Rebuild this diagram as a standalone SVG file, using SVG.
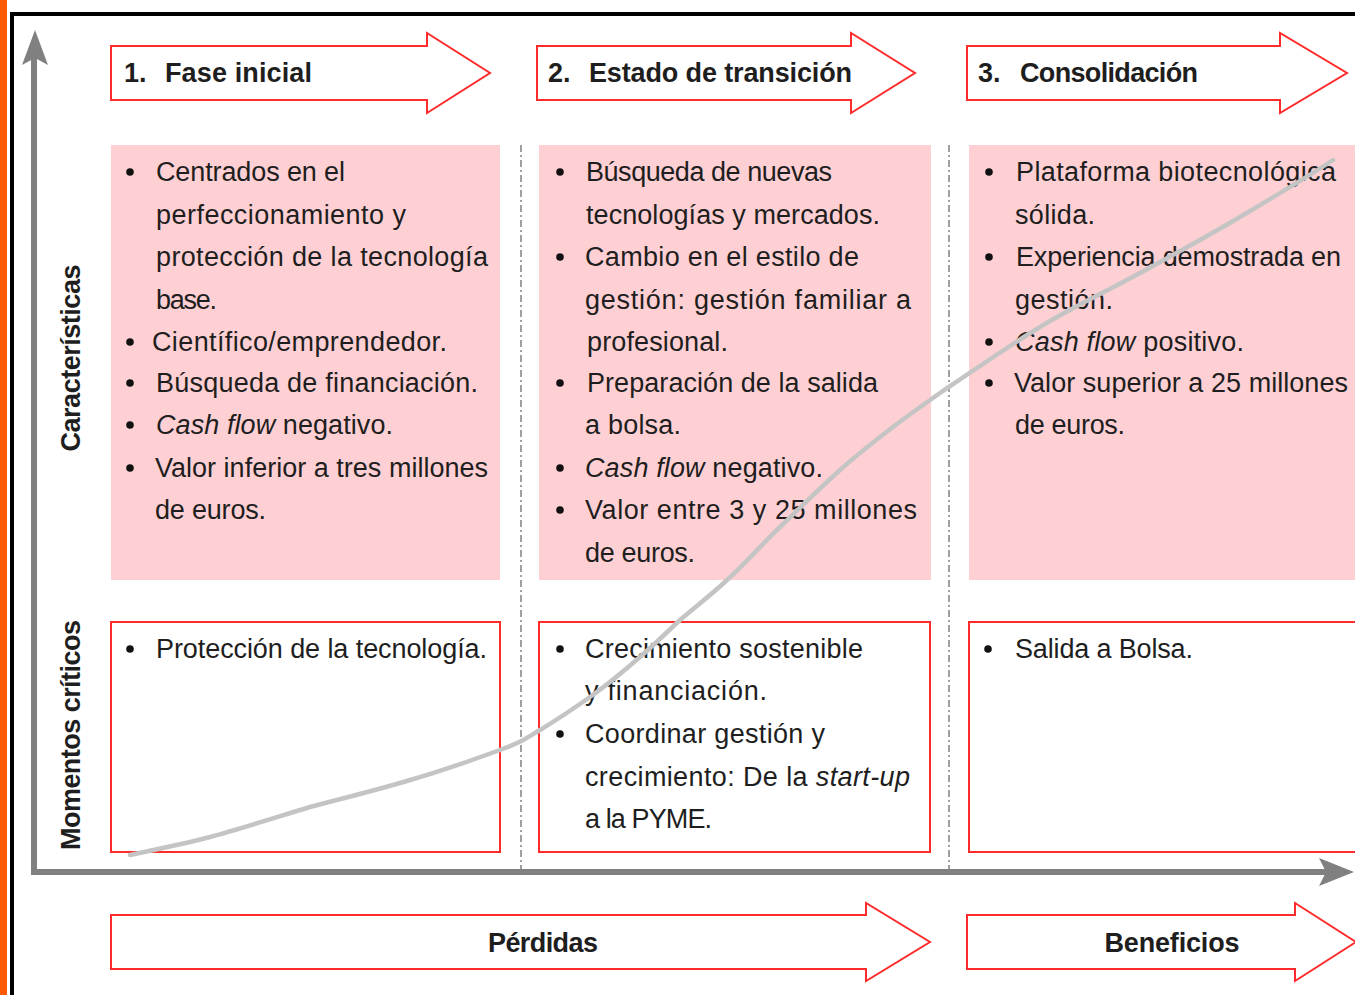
<svg xmlns="http://www.w3.org/2000/svg" width="1355" height="995" viewBox="0 0 1355 995">
<style>
.arrow{fill:#fff;stroke:#ff2b2b;stroke-width:2}
.pink{fill:#ffd0d3}
.box{fill:#fff;stroke:#ff2b2b;stroke-width:2}
.t{font-family:"Liberation Sans",Arial,sans-serif;font-size:27px;fill:#1e1e1e}
.h{font-weight:bold}
.i{font-style:italic}
.div{stroke:#808080;stroke-width:1.5;stroke-dasharray:7 3 2 3;fill:none}
.axis{stroke:#808080;stroke-width:6;fill:none}
.head{fill:#808080}
.curve{stroke:#c4c4c4;stroke-width:4.5;fill:none;stroke-linecap:round}
.b{fill:#111}
</style>
<rect x="0" y="0" width="1355" height="995" fill="#fff"/>
<rect x="0" y="0" width="7" height="995" fill="#ff5a00"/>
<rect x="12" y="14" width="1400" height="1100" fill="none" stroke="#000" stroke-width="4"/>

<g id="phase1">
<path class="arrow" d="M111,46 H427 V33 L490,73 L427,113 V100 H111 Z"/>
<text class="t h" y="82"><tspan x="124">1.</tspan><tspan x="165" textLength="147">Fase inicial</tspan></text>
</g>
<g id="phase2">
<path class="arrow" d="M537,46 H851 V33 L915,73 L851,113 V100 H537 Z"/>
<text class="t h" y="82"><tspan x="548">2.</tspan><tspan x="589" textLength="263">Estado de transición</tspan></text>
</g>
<g id="phase3">
<path class="arrow" d="M967,46 H1280 V33 L1347,73 L1280,113 V100 H967 Z"/>
<text class="t h" y="82"><tspan x="978">3.</tspan><tspan x="1020" textLength="178">Consolidación</tspan></text>
</g>

<g id="label-caracteristicas">
<text class="t h" transform="translate(80,358) rotate(-90)" text-anchor="middle" font-size="25" textLength="187">Características</text>
</g>
<g id="label-momentos">
<text class="t h" transform="translate(80,735) rotate(-90)" text-anchor="middle" font-size="25" textLength="230">Momentos críticos</text>
</g>

<g id="dividers">
<line class="div" x1="521" y1="145" x2="521" y2="870"/>
<line class="div" x1="949" y1="145" x2="949" y2="870"/>
</g>

<g id="char1">
<rect class="pink" x="111" y="145" width="389" height="435"/>
<circle class="b" cx="130" cy="172" r="3.8"/><circle class="b" cx="130" cy="342" r="3.8"/><circle class="b" cx="130" cy="383" r="3.8"/><circle class="b" cx="130" cy="425" r="3.8"/><circle class="b" cx="130" cy="468" r="3.8"/>
<text class="t" x="156" y="181" textLength="189">Centrados en el</text>
<text class="t" x="156" y="224" textLength="250">perfeccionamiento y</text>
<text class="t" x="156" y="266" textLength="332">protección de la tecnología</text>
<text class="t" x="156" y="309" textLength="61">base.</text>
<text class="t" x="152" y="351" textLength="295">Científico/emprendedor.</text>
<text class="t" x="156" y="392" textLength="322">Búsqueda de financiación.</text>
<text class="t" x="156" y="434" textLength="237"><tspan class="i">Cash flow</tspan> negativo.</text>
<text class="t" x="155" y="477" textLength="333">Valor inferior a tres millones</text>
<text class="t" x="155" y="519" textLength="111">de euros.</text>
</g>

<g id="char2">
<rect class="pink" x="539" y="145" width="392" height="435"/>
<circle class="b" cx="560" cy="172" r="3.8"/><circle class="b" cx="560" cy="257" r="3.8"/><circle class="b" cx="560" cy="383" r="3.8"/><circle class="b" cx="560" cy="468" r="3.8"/><circle class="b" cx="560" cy="510" r="3.8"/>
<text class="t" x="586" y="181" textLength="246">Búsqueda de nuevas</text>
<text class="t" x="586" y="224" textLength="294">tecnologías y mercados.</text>
<text class="t" x="585" y="266" textLength="274">Cambio en el estilo de</text>
<text class="t" x="585" y="309" textLength="326">gestión: gestión familiar a</text>
<text class="t" x="587" y="351" textLength="141">profesional.</text>
<text class="t" x="587" y="392" textLength="291">Preparación de la salida</text>
<text class="t" x="585" y="434" textLength="96">a bolsa.</text>
<text class="t" x="585" y="477" textLength="238"><tspan class="i">Cash flow</tspan> negativo.</text>
<text class="t" x="585" y="519" textLength="332">Valor entre 3 y 25 millones</text>
<text class="t" x="585" y="562" textLength="110">de euros.</text>
</g>

<g id="char3">
<rect class="pink" x="969" y="145" width="390" height="435"/>
<circle class="b" cx="989" cy="172" r="3.8"/><circle class="b" cx="989" cy="257" r="3.8"/><circle class="b" cx="989" cy="342" r="3.8"/><circle class="b" cx="989" cy="383" r="3.8"/>
<text class="t" x="1016" y="181" textLength="320">Plataforma biotecnológica</text>
<text class="t" x="1015" y="224" textLength="80">sólida.</text>
<text class="t" x="1016" y="266" textLength="325">Experiencia demostrada en</text>
<text class="t" x="1015" y="309" textLength="98">gestión.</text>
<text class="t" x="1015" y="351" textLength="229"><tspan class="i">Cash flow</tspan> positivo.</text>
<text class="t" x="1014" y="392" textLength="334">Valor superior a 25 millones</text>
<text class="t" x="1015" y="434" textLength="110">de euros.</text>
</g>

<g id="crit1">
<rect class="box" x="111" y="622" width="389" height="230"/>
<circle class="b" cx="130" cy="649" r="3.8"/>
<text class="t" x="156" y="658" textLength="331">Protección de la tecnología.</text>
</g>
<g id="crit2">
<rect class="box" x="539" y="622" width="391" height="230"/>
<circle class="b" cx="560" cy="649" r="3.8"/><circle class="b" cx="560" cy="734" r="3.8"/>
<text class="t" x="585" y="658" textLength="278">Crecimiento sostenible</text>
<text class="t" x="585" y="700" textLength="182">y financiación.</text>
<text class="t" x="585" y="743" textLength="240">Coordinar gestión y</text>
<text class="t" x="585" y="786" textLength="325">crecimiento: De la <tspan class="i">start-up</tspan></text>
<text class="t" x="585" y="828" textLength="127">a la PYME.</text>
</g>
<g id="crit3">
<rect class="box" x="969" y="622" width="400" height="230"/>
<circle class="b" cx="988" cy="649" r="3.8"/>
<text class="t" x="1015" y="658" textLength="178">Salida a Bolsa.</text>
</g>

<g id="perdidas">
<path class="arrow" d="M111,915 H866 V903 L930,942 L866,981 V969 H111 Z"/>
<text class="t h" x="543" y="952" text-anchor="middle" textLength="110">Pérdidas</text>
</g>
<g id="beneficios">
<path class="arrow" d="M967,915 H1295 V903 L1356,942 L1295,981 V969 H967 Z"/>
<text class="t h" x="1172" y="952" text-anchor="middle" textLength="135">Beneficios</text>
</g>

<g id="connectors">
<path class="axis" d="M34,58 V872 H1330"/>
<path class="head" d="M35,30 L48,65 L35,58 L22,65 Z"/>
<path class="head" d="M1354,872 L1319,858 L1326,872 L1319,886 Z"/>
<path class="curve" d="M130,855 C143,852 180,845 210,837 C240,829 277,817 310,807 C343,798 378,790 410,780 C442,771 478,758 500,750 C522,742 525,739 540,730 C555,721 573,709 590,697 C607,685 625,670 640,657 C655,644 666,633 680,620 C695,607 710,596 727,580 C744,565 761,545 780,527 C799,509 821,487 840,470 C859,453 876,440 893,427 C910,414 916,410 940,393 C965,376 1007,347 1040,327 C1073,307 1107,291 1140,273 C1173,255 1208,236 1240,217 C1272,198 1318,170 1333,160"/>
</g>
</svg>
